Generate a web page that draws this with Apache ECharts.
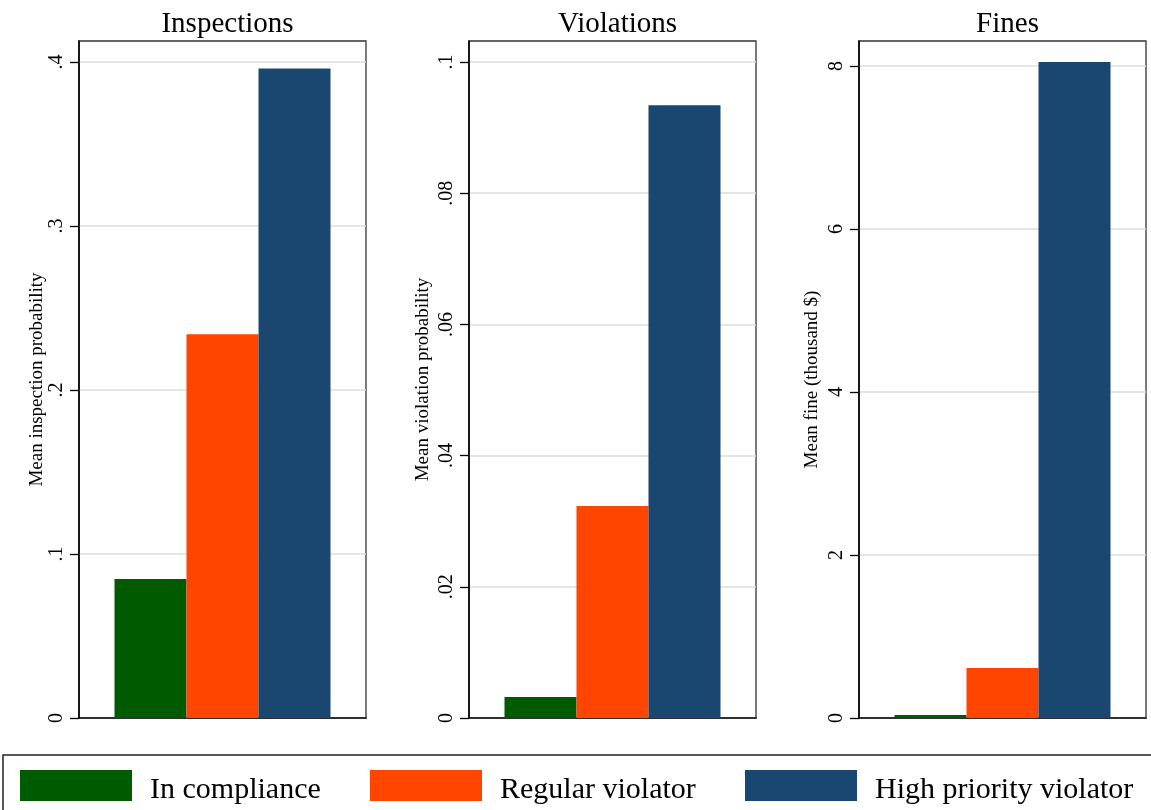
<!DOCTYPE html>
<html>
<head>
<meta charset="utf-8">
<script src="https://cdn.jsdelivr.net/npm/echarts@6/dist/echarts.min.js"></script>
<style>
html,body{margin:0;padding:0;background:#fff;}
#chart{width:1151px;height:810px;}
</style>
</head>
<body>
<div id="chart"></div>
<script>
// ---- data ----
const groups = ['In compliance', 'Regular violator', 'High priority violator'];
const panelTitles = ['Inspections', 'Violations', 'Fines'];
const axisNames = ['Mean inspection probability', 'Mean violation probability', 'Mean fine (thousand $)'];
const inspections = [0.0848, 0.234, 0.396];
const violations = [0.0032, 0.0323, 0.0934];
const fines = [0.037, 0.613, 8.05];
const inspTicks = [0, 0.1, 0.2, 0.3, 0.4];
const violTicks = [0, 0.02, 0.04, 0.06, 0.08, 0.1];
const fineTicks = [0, 2, 4, 6, 8];
const axisMax = [0.4128, 0.1032, 8.307];

// ---- styling ----
const colors = ['#005a00', '#ff4500', '#1a476f'];
const FONT = 'Liberation Serif';
const panelValues = [inspections, violations, fines];
const panelTicks = [inspTicks, violTicks, fineTicks];
const gridLefts = [79, 469, 859];
const nameGaps = [30, 36, 37];
const GRID_W = 287, GRID_TOP = 41, GRID_H = 677;

function fmt(v) {
  if (v === 0) return '0';
  return String(+v.toFixed(4)).replace(/^0\./, '.');
}

const grids = [], xAxes = [], yAxes = [], series = [], titles = [];
for (let p = 0; p < 3; p++) {
  grids.push({
    left: gridLefts[p], top: GRID_TOP, width: GRID_W, height: GRID_H,
    show: true, borderColor: '#333', borderWidth: 1.3, backgroundColor: '#fff'
  });
  xAxes.push({
    type: 'category', gridIndex: p, data: [''],
    axisLine: { lineStyle: { color: '#000', width: 1.6 } },
    axisTick: { show: false }, axisLabel: { show: false }, splitLine: { show: false }
  });
  yAxes.push({
    type: 'value', gridIndex: p, min: 0, max: axisMax[p],
    name: axisNames[p], nameLocation: 'middle', nameRotate: 90, nameGap: nameGaps[p],
    nameTextStyle: { fontFamily: FONT, fontSize: 19, color: '#000' },
    axisLine: { show: true, lineStyle: { color: '#000', width: 1.6 } },
    axisTick: { show: true, length: 9, customValues: panelTicks[p], lineStyle: { color: '#000', width: 1.3 } },
    axisLabel: {
      customValues: panelTicks[p], rotate: 90, margin: 12,
      fontFamily: FONT, fontSize: 20, color: '#000', formatter: fmt
    },
    splitLine: { show: true, lineStyle: { color: '#dddddd', width: 1.5 } }
  });
  titles.push({
    text: panelTitles[p], left: gridLefts[p] + GRID_W / 2, top: 5, textAlign: 'center',
    textStyle: { fontFamily: FONT, fontSize: 29, fontWeight: 'normal', color: '#000' }
  });
  for (let i = 0; i < 3; i++) {
    series.push({
      type: 'bar', name: groups[i], xAxisIndex: p, yAxisIndex: p,
      data: [panelValues[p][i]], barWidth: 72, barGap: '0%',
      itemStyle: { color: colors[i] }, silent: true, animation: false
    });
  }
}

const legendLefts = [20, 370, 745];
const legends = groups.map((g, i) => ({
  data: [g], left: legendLefts[i], top: 770, orient: 'horizontal', padding: 0,
  icon: 'rect', itemWidth: 112, itemHeight: 31, selectedMode: false,
  formatter: name => '{t|' + name + '}',
  textStyle: {
    fontFamily: FONT, fontSize: 30, color: '#000',
    rich: { t: { fontFamily: FONT, fontSize: 30, color: '#000', padding: [10, 0, 0, 13] } }
  }
}));

const chart = echarts.init(document.getElementById('chart'), null, { renderer: 'canvas' });
chart.setOption({
  backgroundColor: '#fff',
  animation: false,
  title: titles,
  grid: grids,
  xAxis: xAxes,
  yAxis: yAxes,
  legend: legends,
  series: series,
  graphic: [{
    type: 'rect', shape: { x: 3, y: 755, width: 1200, height: 100 },
    style: { fill: 'none', stroke: '#222', lineWidth: 1.5 }, silent: true
  }]
});
</script>
</body>
</html>
